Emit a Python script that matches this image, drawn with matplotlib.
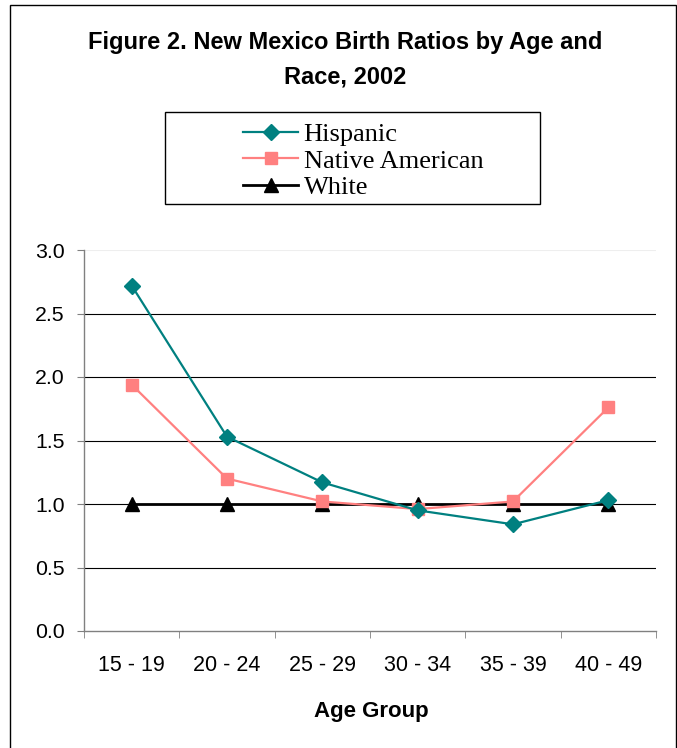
import matplotlib
matplotlib.use("Agg")
import matplotlib.pyplot as plt
from matplotlib.patches import Rectangle
from matplotlib.lines import Line2D

# Birth ratios by age group and race, New Mexico 2002
age_groups = ["15 - 19", "20 - 24", "25 - 29", "30 - 34", "35 - 39", "40 - 49"]
hispanic = [2.72, 1.53, 1.17, 0.95, 0.84, 1.03]
native_american = [1.94, 1.20, 1.02, 0.96, 1.02, 1.76]
white = [1.0, 1.0, 1.0, 1.0, 1.0, 1.0]
y_ticks = [0.0, 0.5, 1.0, 1.5, 2.0, 2.5, 3.0]

W, H = 677, 748
fig = plt.figure(figsize=(W / 100, H / 100), dpi=100)

sans = "Liberation Sans"
serif = "Liberation Serif"

# outer chart border
fig.patches.append(Rectangle((10 / W, -0.01), (676 - 10) / W, 1 - 4.5 / H + 0.01,
                             transform=fig.transFigure, fill=False,
                             edgecolor="black", linewidth=1.0))

ax = fig.add_axes([84 / W, 1 - 631 / H, (656 - 84) / W, (631 - 250) / H])
x = list(range(len(age_groups)))

for v in y_ticks[1:]:
    ax.axhline(v, color="#eeeeee" if v == 3.0 else "black", lw=0.8, zorder=1)

ax.plot(x, white, color="black", lw=2.0, marker="^", markersize=10,
        markerfacecolor="black", markeredgecolor="black", zorder=3, label="White")
ax.plot(x, native_american, color="#ff8080", lw=1.6, marker="s", markersize=8.5,
        markerfacecolor="#ff8080", markeredgecolor="#ff8080", zorder=4,
        label="Native American")
ax.plot(x, hispanic, color="#008080", lw=1.6, marker="D", markersize=8,
        markerfacecolor="#008080", markeredgecolor="#008080", zorder=5,
        label="Hispanic")

ax.set_xlim(-0.5, len(age_groups) - 0.5)
ax.set_ylim(0, 3.0)
ax.set_yticks(y_ticks)
ax.set_yticklabels([f"{v:.1f}" for v in y_ticks], fontsize=15.3, fontfamily=sans)
ax.set_xticks(x)
ax.set_xticklabels(age_groups, fontsize=15.5, fontfamily=sans)
ax.set_xticks([i - 0.5 for i in range(len(age_groups) + 1)], minor=True)
ax.tick_params(axis="x", which="major", length=0, pad=17)
ax.tick_params(axis="x", which="minor", length=5, color="#808080", direction="out")
ax.tick_params(axis="y", length=5, color="#808080", pad=9)

for side in ["top", "right"]:
    ax.spines[side].set_visible(False)
for side in ["left", "bottom"]:
    ax.spines[side].set_color("#808080")
    ax.spines[side].set_linewidth(1.0)

fig.text(371 / W, 1 - 711 / H, "Age Group", ha="center", va="center",
         fontsize=16, fontweight="bold", fontfamily=sans)

fig.text(345 / W, 1 - 43 / H, "Figure 2. New Mexico Birth Ratios by Age and",
         ha="center", va="center", fontsize=17, fontweight="bold", fontfamily=sans)
fig.text(345 / W, 1 - 77 / H, "Race, 2002",
         ha="center", va="center", fontsize=17, fontweight="bold", fontfamily=sans)

# legend box
fig.patches.append(Rectangle((165 / W, 1 - 204 / H), (540 - 165) / W, (204 - 112) / H,
                             transform=fig.transFigure, fill=False,
                             edgecolor="black", linewidth=1.0))
handles = [
    Line2D([], [], color="#008080", lw=1.6, marker="D", markersize=8,
           markerfacecolor="#008080", markeredgecolor="#008080"),
    Line2D([], [], color="#ff8080", lw=1.6, marker="s", markersize=8.5,
           markerfacecolor="#ff8080", markeredgecolor="#ff8080"),
    Line2D([], [], color="black", lw=2.0, marker="^", markersize=10,
           markerfacecolor="black", markeredgecolor="black"),
]
fig.legend(handles, ["Hispanic", "Native American", "White"],
           loc="center left", bbox_to_anchor=(243 / W, 1 - 161 / H),
           frameon=False, prop={"family": serif, "size": 19},
           handlelength=2.1, handletextpad=0.2, labelspacing=0.11,
           borderpad=0, borderaxespad=0)

fig.savefig("out.png", dpi=100)
